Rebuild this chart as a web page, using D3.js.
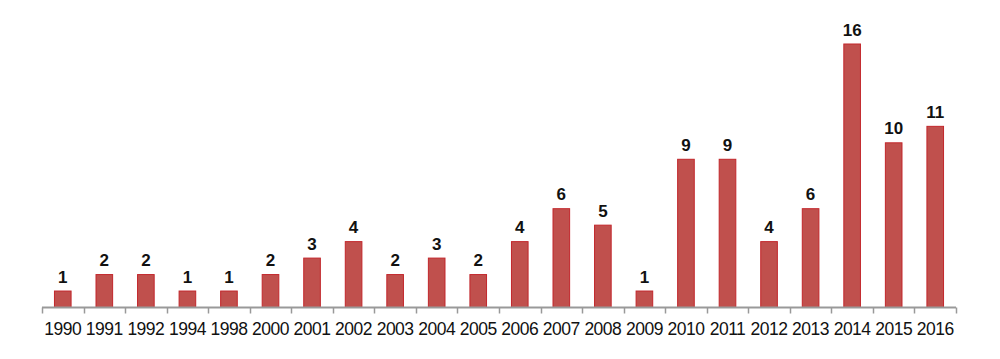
<!DOCTYPE html>
<html>
<head>
<meta charset="utf-8">
<script src="https://cdn.jsdelivr.net/npm/d3@7"></script>
<style>
  body { margin: 0; background: #fff; }
</style>
</head>
<body>
<div id="chart"></div>
<script>
var years = ["1990", "1991", "1992", "1994", "1998", "2000", "2001", "2002", "2003", "2004", "2005",
    "2006", "2007", "2008", "2009", "2010", "2011", "2012", "2013", "2014", "2015", "2016"];
var counts = [1, 2, 2, 1, 1, 2, 3, 4, 2, 3, 2, 4, 6, 5, 1, 9, 9, 4, 6, 16, 10, 11];

var width = 1000, height = 359;
var plotLeft = 42, plotRight = 956, base = 307.5, plotTop = 44;

var svg = d3.select("#chart")
    .append("svg")
    .attr("width", width)
    .attr("height", height);

var x = d3.scaleBand().domain(years).range([plotLeft, plotRight]).paddingInner(0.6).paddingOuter(0.3);
var xb = d3.scaleBand().domain(years).range([plotLeft, plotRight]);
var y = d3.scaleLinear().domain([0, 16]).range([base, plotTop]);

// bars
svg.selectAll(".bar")
    .data(years)
    .enter()
    .append("rect")
    .attr("class", "bar")
    .attr("x", function (d) { return x(d); })
    .attr("width", x.bandwidth())
    .attr("y", function (d, i) { return y(counts[i]); })
    .attr("height", function (d, i) { return base - y(counts[i]); })
    .attr("fill", "#c0504d")
    .attr("stroke", "#c2262b")
    .attr("stroke-width", 1);

// value labels
svg.selectAll(".val")
    .data(years)
    .enter()
    .append("text")
    .attr("class", "val")
    .attr("x", function (d) { return x(d) + x.bandwidth() / 2; })
    .attr("y", function (d, i) { return y(counts[i]) - 8.5; })
    .attr("text-anchor", "middle")
    .attr("font-family", "Liberation Sans, Arial, sans-serif")
    .attr("font-size", 17)
    .attr("font-weight", "bold")
    .attr("fill", "#111")
    .text(function (d, i) { return counts[i]; });

// axis line and ticks at category boundaries
var edges = years.map(function (d) { return xb(d); }).concat([plotRight]);
svg.append("line")
    .attr("x1", plotLeft).attr("x2", plotRight)
    .attr("y1", base).attr("y2", base)
    .attr("stroke", "#999")
    .attr("stroke-width", 2);

svg.selectAll(".tick")
    .data(edges)
    .enter()
    .append("line")
    .attr("x1", function (d) { return Math.round(d) + 0.5; })
    .attr("x2", function (d) { return Math.round(d) + 0.5; })
    .attr("y1", base)
    .attr("y2", base + 6)
    .attr("stroke", "#999")
    .attr("stroke-width", 1.5);

svg.selectAll(".lbl")
    .data(years)
    .enter()
    .append("text")
    .attr("class", "lbl")
    .attr("x", function (d) { return xb(d) + xb.bandwidth() / 2; })
    .attr("y", 335)
    .attr("text-anchor", "middle")
    .attr("font-family", "Liberation Sans, Arial, sans-serif")
    .attr("font-size", 17.5)
    .attr("letter-spacing", -0.5)
    .attr("fill", "#111")
    .text(function (d) { return d; });
</script>
</body>
</html>
